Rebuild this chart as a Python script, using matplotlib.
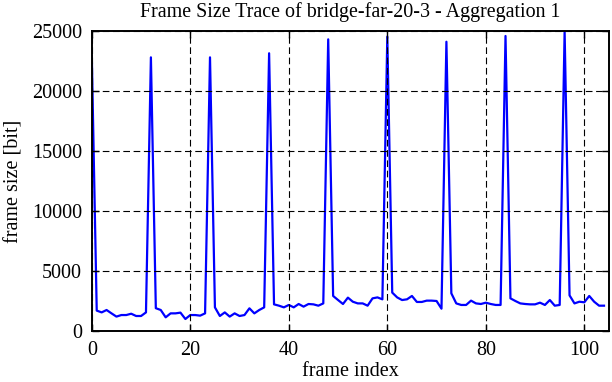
import matplotlib
matplotlib.use("Agg")
import matplotlib.pyplot as plt

plt.rcParams['font.family'] = ['Liberation Serif', 'DejaVu Serif']
plt.rcParams['lines.scale_dashes'] = False

frame_size = [
    22900, 1700, 1550, 1750, 1470, 1200, 1330, 1330, 1440, 1250, 1250, 1550,
    22800, 1900, 1750, 1140, 1470, 1470, 1530, 1000, 1330, 1330, 1280, 1470,
    22800, 1970, 1250, 1550, 1200, 1470, 1250, 1330, 1890, 1470, 1750, 1970,
    23140, 2220, 2110, 1970, 2170, 1970, 2250, 2030, 2250, 2220, 2110, 2300,
    24300, 2920, 2580, 2250, 2780, 2440, 2300, 2300, 2110, 2720, 2800, 2640,
    24530, 3200, 2800, 2580, 2640, 2920, 2420, 2420, 2530, 2530, 2500, 1860,
    24100, 3140, 2300, 2170, 2170, 2530, 2300, 2250, 2360, 2250, 2170, 2170,
    24580, 2720, 2500, 2300, 2250, 2220, 2220, 2360, 2170, 2580, 2110, 2170,
    24950, 2970, 2300, 2440, 2390, 2920, 2440, 2110, 2110,
]
frame_index = list(range(len(frame_size)))

x_ticks = [0, 20, 40, 60, 80, 100]
y_ticks = [0, 5000, 10000, 15000, 20000, 25000]

fig = plt.figure(figsize=(6.12, 3.82), dpi=100)
ax = fig.add_axes([0.150, 0.1335, 0.845, 0.7855])

ax.plot(frame_index, frame_size, color='#0000ff', lw=1.6, zorder=2)

ax.set_xlim(0, 105)
ax.set_ylim(0, 25000)
ax.set_xticks(x_ticks)
ax.set_yticks(y_ticks)
ax.tick_params(direction='in', length=5, width=1, top=True, right=True,
               labelsize=14.5, colors='black')
ax.tick_params(axis='y', pad=7)
ax.tick_params(axis='x', pad=7)
ax.grid(True, color='black', lw=0.8, linestyle=(0, (4.8, 2.6)), zorder=3)
ax.set_axisbelow(False)
for s in ax.spines.values():
    s.set_linewidth(1.4)
    s.set_zorder(4)

ax.set_title('Frame Size Trace of bridge-far-20-3 - Aggregation 1', fontsize=14.4, pad=10)
ax.set_xlabel('frame index', fontsize=14.5, labelpad=1.5)
ax.set_ylabel('frame size [bit]', fontsize=14.5, labelpad=6)

fig.savefig('out.png', dpi=100)
